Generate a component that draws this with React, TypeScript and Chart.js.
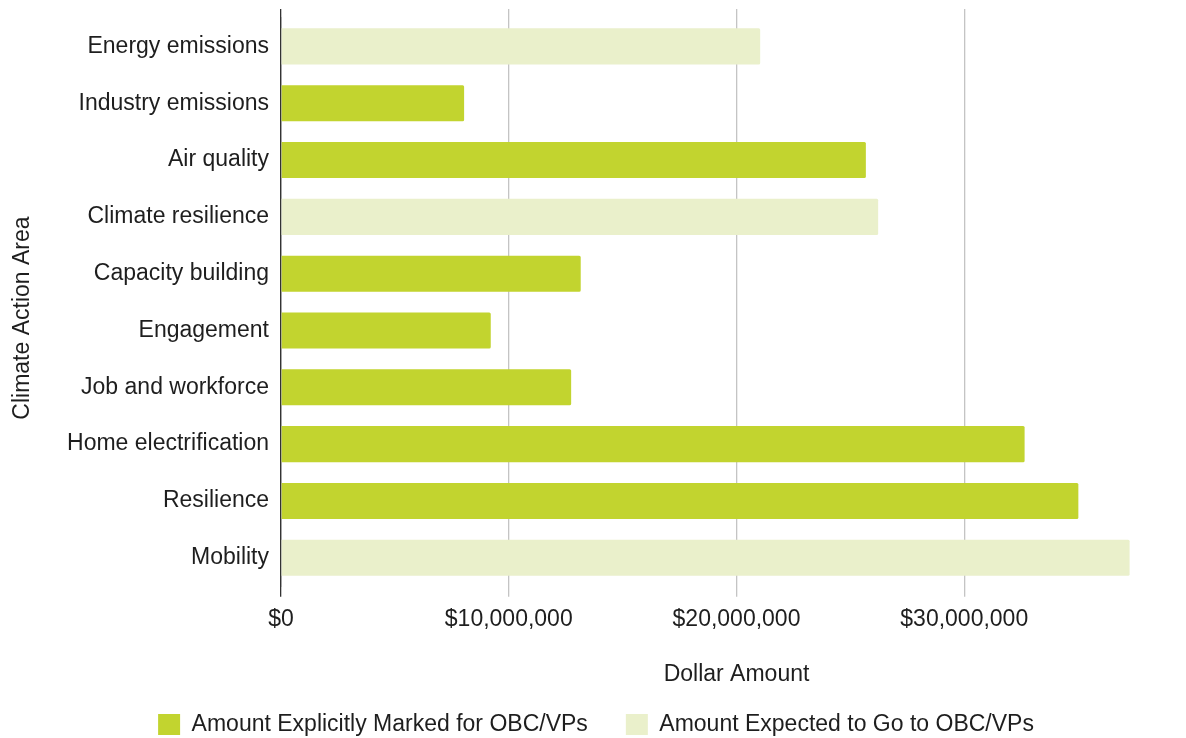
import React, { useEffect, useRef } from 'react';
import { Chart, registerables } from 'chart.js';

Chart.register(...registerables);

const categories = [
  'Energy emissions',
  'Industry emissions',
  'Air quality',
  'Climate resilience',
  'Capacity building',
  'Engagement',
  'Job and workforce',
  'Home electrification',
  'Resilience',
  'Mobility',
];
const explicitAmounts = [null, 8040000, 25680000, null, 13160000, 9210000, 12740000, 32650000, 35010000, null];
const expectedAmounts = [21040000, null, null, 26220000, null, null, null, null, null, 37260000];
const seriesLabels = ['Amount Explicitly Marked for OBC/VPs', 'Amount Expected to Go to OBC/VPs'];
const xTickValues = [0, 10000000, 20000000, 30000000];
const xMin = 0;
const xMax = 40000000;

const FONT = "'Liberation Sans', Arial, sans-serif";
const FONT_SIZE = 23;
const TEXT = '#1e1e1e';
const DARK = '#c2d42f';
const LIGHT = '#eaf0cb';
const GRID = '#c4c4c4';
const AXIS = '#333333';

export default function App() {
  const ref = useRef<HTMLCanvasElement | null>(null);

  useEffect(() => {
    const canvas = ref.current;
    if (!canvas) return;
    const setTicks = (scale: any) => {
      scale.ticks = xTickValues.map((v) => ({ value: v }));
    };
    const gridColor = (ctx: any) => (ctx.tick && ctx.tick.value === 0 ? AXIS : GRID);
    const chart = new Chart(canvas, {
      type: 'bar',
      data: {
        labels: categories,
        datasets: [
          {
            label: seriesLabels[0],
            data: explicitAmounts,
            backgroundColor: DARK,
            borderWidth: 0,
            borderRadius: 1.5,
            grouped: false,
            categoryPercentage: 1,
            barPercentage: 0.635,
          } as any,
          {
            label: seriesLabels[1],
            data: expectedAmounts,
            backgroundColor: LIGHT,
            borderWidth: 0,
            borderRadius: 1.5,
            grouped: false,
            categoryPercentage: 1,
            barPercentage: 0.635,
          } as any,
        ],
      },
      options: {
        indexAxis: 'y',
        animation: false,
        responsive: false,
        devicePixelRatio: 1,
        layout: { padding: { top: 9, right: 4, left: 0, bottom: 0 } },
        plugins: {
          tooltip: { enabled: false },
          legend: {
            position: 'bottom',
            align: 'center',
            labels: {
              boxWidth: 22,
              boxHeight: 21,
              padding: 38,
              color: TEXT,
              font: { family: FONT, size: FONT_SIZE },
            },
          },
        },
        scales: {
          x: {
            type: 'linear',
            position: 'bottom',
            min: xMin,
            max: xMax,
            afterBuildTicks: setTicks,
            afterFit: (scale: any) => {
              scale.height = 88.8;
            },
            grid: {
              color: gridColor,
              lineWidth: 1.3,
              tickLength: 10.5,
              drawTicks: true,
            },
            border: { display: false },
            ticks: {
              padding: 9,
              color: TEXT,
              font: { family: FONT, size: FONT_SIZE },
              callback: (v: any) => '$' + Number(v).toLocaleString('en-US'),
            },
            title: {
              display: true,
              text: 'Dollar Amount',
              color: TEXT,
              font: { family: FONT, size: FONT_SIZE, lineHeight: 1 },
              padding: { top: 0, bottom: -11 },
            },
          },
          xTop: {
            type: 'linear',
            position: 'top',
            min: xMin,
            max: xMax,
            afterBuildTicks: setTicks,
            grid: {
              color: gridColor,
              lineWidth: 1.3,
              tickLength: 9,
              drawOnChartArea: false,
              drawTicks: true,
            },
            border: { display: false },
            ticks: { display: false },
          },
          y: {
            type: 'category',
            afterFit: (scale: any) => {
              scale.width = 281;
              scale.paddingTop = 0;
              scale.paddingBottom = 0;
            },
            grid: { display: false, drawTicks: false },
            border: { display: true, color: AXIS, width: 1.2 },
            ticks: {
              autoSkip: false,
              padding: 12,
              color: TEXT,
              font: { family: FONT, size: FONT_SIZE },
            },
            title: {
              display: true,
              text: 'Climate Action Area     ',
              color: TEXT,
              font: { family: FONT, size: FONT_SIZE, lineHeight: 1 },
              padding: { top: 11, bottom: 0 },
            },
          },
        },
      } as any,
    });
    return () => chart.destroy();
  }, []);

  return (
    <div
      style={{
        position: 'fixed',
        left: 0,
        top: 0,
        width: 1186,
        height: 738,
        overflow: 'hidden',
        background: '#ffffff',
      }}
    >
      <canvas ref={ref} width={1196} height={746} style={{ display: 'block', width: 1196, height: 746 }} />
    </div>
  );
}
